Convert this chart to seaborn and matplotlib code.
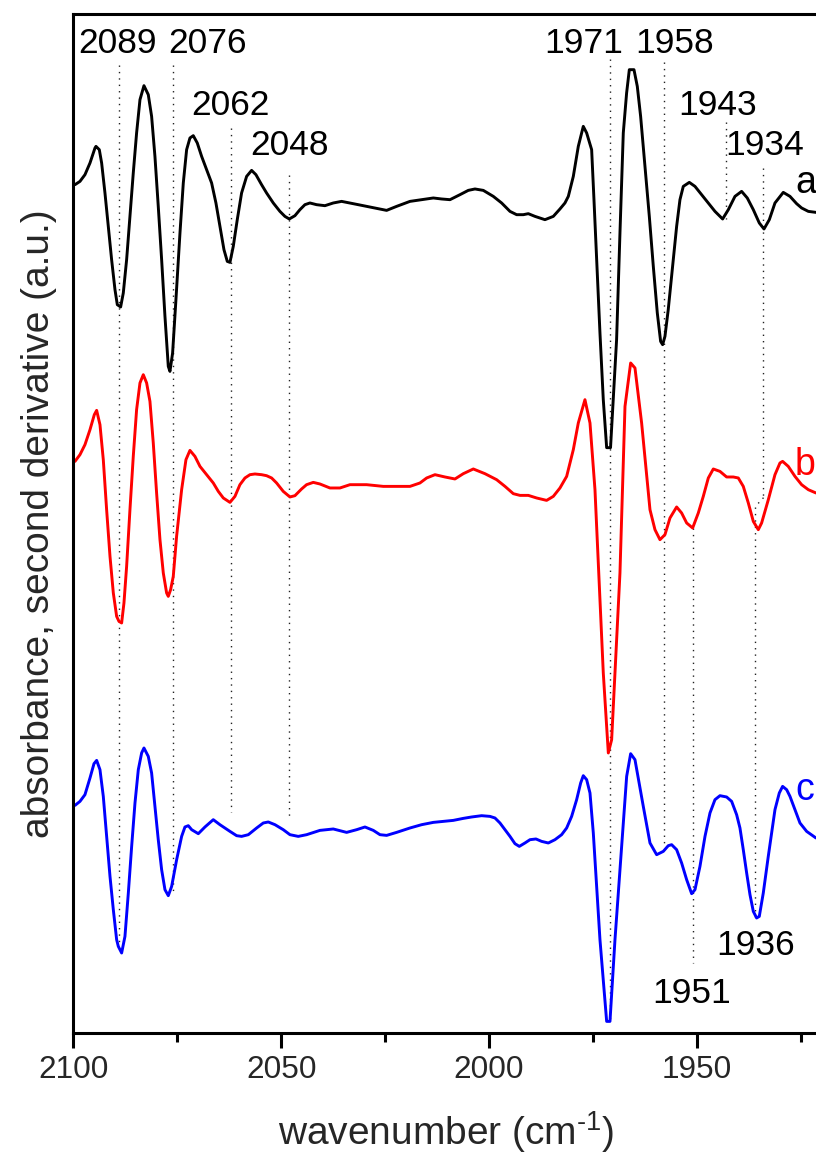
import matplotlib
matplotlib.use("Agg")
import matplotlib.pyplot as plt
import numpy as np
import pandas as pd
import seaborn as sns

# Second-derivative spectra (arbitrary units) against wavenumber (cm-1)
wn_a = [2099.59, 2098.39, 2097.19, 2095.98, 2094.78, 2094.54, 2093.74, 2093.18, 2092.38, 2091.58,
        2090.78, 2089.97, 2089.41, 2088.61, 2087.97, 2087.17, 2086.37, 2085.57, 2084.77, 2083.96,
        2083.00, 2081.96, 2081.16, 2080.36, 2079.56, 2078.75, 2077.95, 2077.15, 2076.75, 2076.11,
        2075.31, 2074.34, 2073.54, 2072.74, 2071.94, 2071.14, 2070.18, 2069.13, 2067.93, 2066.73,
        2065.69, 2064.73, 2063.76, 2062.96, 2062.32, 2061.52, 2060.56, 2059.52, 2058.31, 2057.11,
        2056.07, 2054.71, 2053.51, 2051.90, 2050.30, 2049.10, 2048.05, 2046.69, 2045.49, 2044.29,
        2043.09, 2041.48, 2039.48, 2037.47, 2035.47, 2033.46, 2031.46, 2029.45, 2027.05, 2024.64,
        2022.24, 2019.02, 2016.22, 2013.41, 2011.41, 2009.40, 2007.00, 2005.00, 2003.39, 2001.39,
        1998.98, 1996.98, 1994.97, 1993.37, 1991.77, 1990.56, 1988.96, 1986.56, 1984.55, 1982.95,
        1981.75, 1980.94, 1979.74, 1978.54, 1977.34, 1976.53, 1975.33, 1974.77, 1974.05, 1973.33,
        1972.53, 1971.72, 1970.79, 1969.33, 1968.52, 1967.72, 1966.92, 1966.27, 1965.15, 1964.35,
        1963.55, 1962.51, 1961.46, 1960.50, 1959.54, 1958.74, 1958.26, 1957.70, 1956.91, 1955.69,
        1954.89, 1954.09, 1953.29, 1951.84, 1950.48, 1948.88, 1947.27, 1945.67, 1943.83, 1942.46,
        1940.86, 1939.26, 1937.90, 1936.45, 1935.01, 1933.88, 1932.60, 1931.24, 1929.24, 1927.63,
        1926.03, 1924.83, 1923.22, 1921.38]
d2_a = [0.200, 0.233, 0.300, 0.417, 0.567, 0.583, 0.550, 0.417, 0.117, -0.217,
        -0.550, -0.850, -1.000, -1.023, -0.883, -0.550, -0.117, 0.317, 0.717, 1.050,
        1.190, 1.100, 0.883, 0.483, -0.017, -0.550, -1.117, -1.617, -1.667, -1.483,
        -0.950, -0.283, 0.217, 0.550, 0.667, 0.690, 0.617, 0.483, 0.350, 0.217,
        0.017, -0.217, -0.450, -0.567, -0.577, -0.417, -0.150, 0.117, 0.283, 0.343,
        0.300, 0.200, 0.117, 0.017, -0.067, -0.117, -0.143, -0.110, -0.050, 0.000,
        0.017, 0.000, -0.010, 0.017, 0.033, 0.017, 0.000, -0.017, -0.037, -0.057,
        -0.017, 0.033, 0.050, 0.067, 0.057, 0.050, 0.100, 0.143, 0.157, 0.143,
        0.083, 0.017, -0.067, -0.100, -0.100, -0.090, -0.117, -0.150, -0.117, -0.043,
        0.017, 0.083, 0.283, 0.583, 0.783, 0.717, 0.550, 0.050, -0.617, -1.283,
        -1.950, -2.430, -2.430, -1.350, -0.283, 0.717, 1.117, 1.350, 1.350, 1.183,
        0.883, 0.383, -0.117, -0.617, -1.083, -1.367, -1.400, -1.317, -1.050, -0.550,
        -0.217, 0.050, 0.183, 0.223, 0.183, 0.100, 0.017, -0.067, -0.143, -0.050,
        0.083, 0.133, 0.067, -0.050, -0.183, -0.243, -0.150, 0.017, 0.123, 0.083,
        0.010, -0.033, -0.067, -0.077]

wn_b = [2099.59, 2098.39, 2097.19, 2095.98, 2094.94, 2094.38, 2093.58, 2092.78, 2091.98, 2091.17,
        2090.37, 2089.57, 2089.01, 2088.37, 2087.81, 2087.17, 2086.37, 2085.57, 2084.77, 2083.96,
        2083.16, 2082.36, 2081.56, 2080.76, 2079.96, 2079.15, 2078.35, 2077.55, 2077.15, 2076.59,
        2075.95, 2075.15, 2073.94, 2072.90, 2071.94, 2070.74, 2069.53, 2067.93, 2066.33, 2065.12,
        2063.92, 2062.32, 2061.12, 2059.92, 2058.71, 2057.51, 2056.31, 2054.71, 2053.51, 2052.30,
        2051.10, 2049.50, 2047.89, 2046.69, 2045.09, 2043.89, 2042.28, 2040.68, 2038.27, 2035.87,
        2033.46, 2029.45, 2025.44, 2021.43, 2019.02, 2016.62, 2015.01, 2013.01, 2010.61, 2008.20,
        2006.20, 2003.79, 2000.99, 1998.18, 1996.17, 1994.17, 1992.57, 1990.56, 1988.56, 1986.16,
        1984.55, 1982.95, 1981.34, 1979.74, 1978.54, 1976.94, 1975.73, 1974.53, 1972.53, 1971.32,
        1970.52, 1968.52, 1967.31, 1965.95, 1964.91, 1963.31, 1961.30, 1960.10, 1958.90, 1957.70,
        1956.49, 1954.89, 1953.69, 1952.48, 1951.04, 1949.68, 1948.48, 1947.27, 1946.07, 1944.47,
        1942.87, 1941.26, 1940.06, 1938.86, 1937.65, 1936.45, 1935.25, 1934.45, 1932.84, 1931.24,
        1930.04, 1929.40, 1928.04, 1926.43, 1924.83, 1923.22, 1921.38]
d2_b = [0.233, 0.300, 0.400, 0.550, 0.700, 0.743, 0.600, 0.250, -0.250, -0.717,
        -1.083, -1.317, -1.367, -1.383, -1.183, -0.817, -0.250, 0.283, 0.750, 1.017,
        1.100, 1.017, 0.833, 0.417, -0.083, -0.550, -0.883, -1.083, -1.117, -1.050,
        -0.917, -0.517, -0.050, 0.250, 0.343, 0.283, 0.183, 0.100, 0.017, -0.067,
        -0.133, -0.177, -0.117, 0.000, 0.067, 0.100, 0.107, 0.100, 0.090, 0.067,
        0.017, -0.067, -0.123, -0.110, -0.043, 0.000, 0.023, 0.007, -0.033, -0.033,
        0.000, 0.000, -0.017, -0.017, -0.017, 0.017, 0.067, 0.100, 0.077, 0.057,
        0.110, 0.157, 0.110, 0.050, -0.017, -0.090, -0.107, -0.107, -0.133, -0.157,
        -0.117, -0.033, 0.083, 0.350, 0.617, 0.850, 0.617, -0.050, -1.883, -2.683,
        -2.550, -0.883, 0.783, 1.217, 1.167, 0.617, -0.250, -0.450, -0.550, -0.500,
        -0.333, -0.223, -0.283, -0.383, -0.433, -0.283, -0.117, 0.067, 0.157, 0.133,
        0.077, 0.077, 0.067, -0.017, -0.183, -0.367, -0.450, -0.383, -0.150, 0.100,
        0.217, 0.233, 0.183, 0.083, 0.000, -0.050, -0.083]

wn_c = [2099.59, 2098.39, 2097.19, 2095.98, 2095.02, 2094.38, 2093.58, 2092.78, 2091.98, 2091.17,
        2090.37, 2089.57, 2089.17, 2088.37, 2087.57, 2086.76, 2085.96, 2085.16, 2084.36, 2083.56,
        2083.00, 2081.96, 2081.16, 2080.36, 2079.56, 2078.75, 2077.95, 2077.15, 2076.34, 2075.14,
        2073.94, 2073.14, 2072.33, 2071.53, 2069.93, 2068.33, 2066.33, 2064.73, 2062.32, 2060.71,
        2059.52, 2057.90, 2055.90, 2054.30, 2053.10, 2051.49, 2049.50, 2047.89, 2045.89, 2043.88,
        2040.68, 2037.47, 2034.26, 2031.85, 2029.85, 2027.84, 2026.24, 2024.64, 2022.24, 2019.02,
        2016.22, 2013.41, 2011.01, 2008.60, 2006.20, 2004.19, 2001.79, 1999.78, 1998.58, 1997.38,
        1996.17, 1994.97, 1993.77, 1992.73, 1991.37, 1990.16, 1988.72, 1987.36, 1985.75, 1984.15,
        1982.55, 1981.34, 1980.14, 1978.94, 1977.97, 1977.34, 1976.53, 1975.73, 1974.93, 1973.33,
        1971.72, 1970.92, 1969.72, 1967.72, 1966.91, 1965.95, 1964.91, 1962.91, 1961.30, 1959.70,
        1958.10, 1956.90, 1956.09, 1954.89, 1953.69, 1952.48, 1951.28, 1950.48, 1949.28, 1948.07,
        1946.87, 1945.67, 1944.47, 1942.87, 1941.66, 1940.46, 1939.66, 1938.86, 1938.05, 1937.25,
        1936.45, 1935.65, 1935.01, 1934.05, 1932.85, 1931.24, 1930.20, 1929.40, 1928.43, 1927.63,
        1926.43, 1925.23, 1923.62, 1921.38]
d2_c = [0.223, 0.263, 0.330, 0.497, 0.640, 0.673, 0.580, 0.313, -0.087, -0.487,
        -0.820, -1.120, -1.187, -1.253, -1.087, -0.653, -0.187, 0.247, 0.580, 0.747,
        0.797, 0.713, 0.547, 0.213, -0.120, -0.420, -0.620, -0.680, -0.587, -0.320,
        -0.087, 0.007, 0.020, -0.020, -0.060, 0.007, 0.080, 0.030, -0.037, -0.080,
        -0.087, -0.070, -0.003, 0.047, 0.057, 0.030, -0.020, -0.070, -0.087, -0.070,
        -0.027, -0.013, -0.047, -0.020, 0.007, -0.027, -0.070, -0.077, -0.047, -0.003,
        0.030, 0.053, 0.063, 0.073, 0.093, 0.107, 0.120, 0.113, 0.097, 0.047,
        -0.020, -0.087, -0.160, -0.187, -0.153, -0.120, -0.113, -0.137, -0.153, -0.120,
        -0.070, -0.003, 0.113, 0.280, 0.447, 0.520, 0.480, 0.347, -0.053, -1.120,
        -1.937, -1.937, -1.120, 0.047, 0.513, 0.740, 0.680, 0.213, -0.153, -0.270,
        -0.237, -0.180, -0.170, -0.220, -0.353, -0.520, -0.660, -0.620, -0.387, -0.087,
        0.147, 0.280, 0.320, 0.307, 0.263, 0.130, -0.003, -0.220, -0.453, -0.670,
        -0.837, -0.903, -0.887, -0.653, -0.287, 0.180, 0.347, 0.413, 0.380, 0.313,
        0.180, 0.047, -0.037, -0.103]

trace_names = ["a", "b", "c"]
trace_offsets = [8.28, 5.48, 2.05]
trace_colors = ["#000000", "#ff0000", "#0000ff"]

# Band positions (cm-1) marked with dotted guides
band_labels = ["2089", "2076", "2062", "2048", "1971", "1958", "1943", "1934", "1951", "1936"]
band_positions = [2089, 2076, 2062, 2048, 1971, 1958, 1943, 1934, 1951, 1936]

x_ticks = [2100, 2050, 2000, 1950]
x_minor = [2075, 2025, 1975, 1925]

# ---------------------------------------------------------------------------
sns.set_theme(style="white")
plt.rcParams["font.family"] = ["Liberation Sans", "DejaVu Sans"]
plt.rcParams["mathtext.fontset"] = "custom"
plt.rcParams["mathtext.rm"] = "Liberation Sans"
plt.rcParams["mathtext.it"] = "Liberation Sans"

frames = []
for name, off, wn, d2 in zip(trace_names, trace_offsets, [wn_a, wn_b, wn_c], [d2_a, d2_b, d2_c]):
    frames.append(pd.DataFrame({"wavenumber": wn,
                                "signal": np.asarray(d2) + off,
                                "trace": name}))
spectra = pd.concat(frames, ignore_index=True)

fig = plt.figure(figsize=(8.16, 11.55), dpi=100)
ax = fig.add_axes([0.0898, 0.1059, 1.0191, 0.8820])

sns.lineplot(data=spectra, x="wavenumber", y="signal", hue="trace",
             palette=dict(zip(trace_names, trace_colors)), estimator=None,
             sort=False, linewidth=2.1, legend=False, ax=ax)

ax.set_xlim(2100, 1900)
ax.set_ylim(0, 10.187)

# dotted guide lines: (position, upper end, lower end)
guide_ends = {2089: (9.68, 0.87), 2076: (9.68, 1.40), 2062: (9.05, 2.21), 2048: (8.58, 2.17),
              1971: (9.74, 0.11), 1958: (9.71, 1.90), 1943: (9.11, 8.14), 1934: (8.65, 5.35),
              1936: (5.26, 1.16), 1951: (5.05, 0.70)}
dot_style = dict(color="#222222", lw=1.0, dashes=(1.0, 3.6), zorder=1)
for pos in band_positions:
    top, bot = guide_ends[pos]
    ax.plot([pos, pos], [top, bot], **dot_style)
ax.plot([1934, 1936], [5.35, 5.26], **dot_style)

# band annotations: (x, baseline y)
label_spots = [(2089.3, 9.80), (2067.6, 9.80), (2062.3, 9.18), (2048.1, 8.78),
               (1977.3, 9.80), (1955.3, 9.80), (1945.0, 9.18), (1933.7, 8.78),
               (1951.4, 0.30), (1935.8, 0.78)]
for txt, (lx, ly) in zip(band_labels, label_spots):
    ax.text(lx, ly, txt, ha="center", va="baseline", fontsize=25.5, color="black")

# trace letters
letter_y = [8.40, 5.58, 2.33]
for name, col, ly in zip(trace_names, trace_colors, letter_y):
    ax.text(1926.4, ly, name, ha="left", va="baseline", fontsize=27, color=col)

ax.set_xticks(x_ticks)
ax.set_xticks(x_minor, minor=True)
ax.set_xticklabels([str(t) for t in x_ticks])
ax.set_yticks([])
ax.tick_params(axis="x", which="major", direction="out", length=11, width=2.2,
               labelsize=22.7, pad=5, bottom=True, top=False, color="black")
ax.tick_params(axis="x", which="minor", direction="out", length=6.5, width=2.2,
               bottom=True, top=False, color="black")
for sp in ax.spines.values():
    sp.set_linewidth(2.2)
    sp.set_color("black")

ax.set_xlabel(r"wavenumber (cm$^{\text{-}1}$)", fontsize=28)
ax.xaxis.set_label_coords(0.448, -0.0755)
ax.set_ylabel("absorbance, second derivative (a.u.)", fontsize=28, labelpad=12)

fig.savefig("out.png", dpi=100)
